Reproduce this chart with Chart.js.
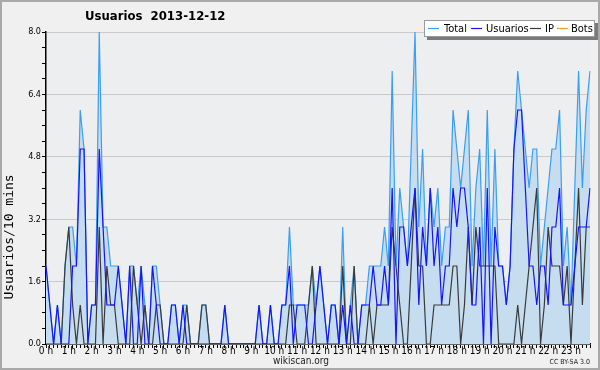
<!DOCTYPE html>
<html>
<head>
<meta charset="utf-8">
<script src="https://cdn.jsdelivr.net/npm/chart.js@4.4.1/dist/chart.umd.min.js"></script>
<style>
  html, body { margin: 0; padding: 0; background: #f0f0f0; }
  #wrap { width: 600px; height: 370px; }
</style>
</head>
<body>
<div id="wrap"><canvas id="chart" width="600" height="370"></canvas></div>
<script>
const hourLabels = ["0 h", "1 h", "2 h", "3 h", "4 h", "5 h", "6 h", "7 h", "8 h", "9 h", "10 h", "11 h",
  "12 h", "13 h", "14 h", "15 h", "16 h", "17 h", "18 h", "19 h", "20 h", "21 h", "22 h", "23 h"];
const yTicks = [0, 1.6, 3.2, 4.8, 6.4, 8.0];

// one value per 10 minutes, 144 per day
const totalData = [
  2, 1, 0, 1, 0, 2, 3, 3, 2, 6, 5, 0, 1, 1, 8, 3, 3, 2, 2, 2, 1, 0, 2, 2,
  1, 2, 1, 0, 2, 2, 1, 0, 0, 1, 1, 0, 1, 1, 0, 0, 0, 1, 1, 0, 0, 0, 0, 1,
  0, 0, 0, 0, 0, 0, 0, 0, 1, 0, 0, 1, 0, 0, 1, 1, 3, 1, 1, 1, 1, 1, 2, 1,
  2, 1, 0, 1, 1, 0, 3, 0, 1, 2, 0, 1, 1, 2, 2, 2, 2, 3, 2, 7, 2, 4, 3, 2,
  5, 8, 3, 5, 2, 4, 3, 4, 2, 3, 3, 6, 5, 4, 5, 6, 2, 4, 5, 2, 6, 2, 5, 2,
  2, 1, 2, 5, 7, 6, 5, 4, 5, 5, 2, 3, 4, 5, 5, 6, 2, 3, 1, 4, 7, 4, 6, 7,
];
const usuariosData = [
  2, 1, 0, 1, 0, 0, 0, 2, 2, 5, 5, 0, 1, 1, 5, 3, 1, 1, 1, 2, 1, 0, 2, 0,
  0, 2, 0, 0, 2, 1, 0, 0, 0, 1, 1, 0, 1, 0, 0, 0, 0, 0, 0, 0, 0, 0, 0, 1,
  0, 0, 0, 0, 0, 0, 0, 0, 1, 0, 0, 1, 0, 0, 1, 1, 2, 0, 1, 1, 1, 0, 0, 1,
  2, 1, 0, 1, 1, 0, 1, 0, 1, 0, 0, 1, 1, 1, 2, 1, 1, 2, 1, 4, 0, 3, 3, 2,
  3, 4, 1, 3, 2, 4, 2, 3, 1, 2, 2, 4, 3, 4, 4, 3, 1, 1, 3, 0, 4, 0, 3, 2,
  2, 1, 2, 5, 6, 6, 4, 2, 2, 1, 2, 2, 1, 3, 3, 4, 1, 1, 1, 2, 3, 3, 3, 4,
];
const ipData = [
  0, 0, 0, 0, 0, 2, 3, 1, 0, 1, 0, 0, 0, 0, 3, 0, 2, 1, 1, 0, 0, 0, 0, 2,
  1, 0, 1, 0, 0, 1, 1, 0, 0, 0, 0, 0, 0, 1, 0, 0, 0, 1, 1, 0, 0, 0, 0, 0,
  0, 0, 0, 0, 0, 0, 0, 0, 0, 0, 0, 0, 0, 0, 0, 0, 1, 1, 0, 0, 0, 1, 2, 0,
  0, 0, 0, 0, 0, 0, 2, 0, 0, 2, 0, 0, 0, 1, 0, 1, 1, 1, 1, 3, 2, 1, 0, 0,
  2, 4, 2, 2, 0, 0, 1, 1, 1, 1, 1, 2, 2, 0, 1, 3, 1, 3, 2, 2, 2, 2, 2, 0,
  0, 0, 0, 0, 1, 0, 1, 2, 3, 4, 0, 1, 3, 2, 2, 2, 1, 2, 0, 2, 4, 1, 3, 3,
];
const botsData = [
  0, 0, 0, 0, 0, 0, 0, 0, 0, 0, 0, 0, 0, 0, 0, 0, 0, 0, 0, 0, 0, 0, 0, 0,
  0, 0, 0, 0, 0, 0, 0, 0, 0, 0, 0, 0, 0, 0, 0, 0, 0, 0, 0, 0, 0, 0, 0, 0,
  0, 0, 0, 0, 0, 0, 0, 0, 0, 0, 0, 0, 0, 0, 0, 0, 0, 0, 0, 0, 0, 0, 0, 0,
  0, 0, 0, 0, 0, 0, 0, 0, 0, 0, 0, 0, 0, 0, 0, 0, 0, 0, 0, 0, 0, 0, 0, 0,
  0, 0, 0, 0, 0, 0, 0, 0, 0, 0, 0, 0, 0, 0, 0, 0, 0, 0, 0, 0, 0, 0, 0, 0,
  0, 0, 0, 0, 0, 0, 0, 0, 0, 0, 0, 0, 0, 0, 0, 0, 0, 0, 0, 0, 0, 0, 0, 0,
];

const slotLabels = [];
hourLabels.forEach((h) => {
  for (let m = 0; m < 60; m += 10) slotLabels.push(h + " " + m);
});

const COLORS = {
  total: "#3a9ef2",
  totalFill: "#c6dcef",
  usuarios: "#1414ff",
  ip: "#3a3a3a",
  bots: "#ffa020",
};
const FONT = "'DejaVu Sans Condensed', 'DejaVu Sans', sans-serif";

const decor = {
  id: "decor",
  beforeDraw(chart) {
    const { ctx, chartArea: a } = chart;
    ctx.save();
    ctx.fillStyle = "#f0f0f0";
    ctx.fillRect(0, 0, chart.width, chart.height);
    ctx.fillStyle = "#eceef0";
    ctx.fillRect(a.left, a.top, a.right - a.left, a.bottom - a.top);
    ctx.restore();
  },
  afterDraw(chart) {
    const ctx = chart.ctx;
    ctx.save();

    // frame
    ctx.strokeStyle = "#a9a9a9";
    ctx.lineWidth = 2;
    ctx.strokeRect(1, 1, chart.width - 2, chart.height - 2);

    // title
    ctx.fillStyle = "#000";
    ctx.font = "bold 13px " + FONT;
    ctx.textBaseline = "middle";
    ctx.textAlign = "left";
    ctx.fillText("Usuarios  2013-12-12", 85, 17);

    // y title
    ctx.save();
    ctx.translate(10, 237);
    ctx.rotate(-Math.PI / 2);
    ctx.textAlign = "center";
    ctx.font = "13px 'DejaVu Sans Mono', monospace";
    ctx.fillText("Usuarios/10 mins", 0, 0);
    ctx.restore();

    // legend box with shadow
    ctx.fillStyle = "#7a7a7a";
    ctx.fillRect(427, 23, 171, 17);
    ctx.fillStyle = "#ffffff";
    ctx.fillRect(424, 20, 171, 17);
    ctx.strokeStyle = "#9a9a9a";
    ctx.lineWidth = 1;
    ctx.strokeRect(424.5, 20.5, 170, 16);

    const items = [
      ["Total", COLORS.total, 428, 444],
      ["Usuarios", COLORS.usuarios, 471, 486],
      ["IP", COLORS.ip, 530, 545],
      ["Bots", COLORS.bots, 557, 571],
    ];
    ctx.font = "11px " + FONT;
    ctx.textAlign = "left";
    items.forEach(([txt, col, lx, tx]) => {
      ctx.strokeStyle = col;
      ctx.lineWidth = 1.2;
      ctx.beginPath();
      ctx.moveTo(lx, 28.5);
      ctx.lineTo(lx + 11, 28.5);
      ctx.stroke();
      ctx.fillStyle = "#000";
      ctx.fillText(txt, tx, 29);
    });

    // footer
    ctx.fillStyle = "#222";
    ctx.textAlign = "center";
    ctx.font = "10px " + FONT;
    ctx.fillText("wikiscan.org", 301, 361);
    ctx.textAlign = "right";
    ctx.font = "7px " + FONT;
    ctx.fillText("CC BY-SA 3.0", 590, 362);

    ctx.restore();
  },
};

function isMajor(v) {
  return yTicks.some((t) => Math.abs(t - v) < 1e-6);
}

const ctx = document.getElementById("chart").getContext("2d");
new Chart(ctx, {
  type: "line",
  data: {
    labels: slotLabels,
    datasets: [
      {
        label: "Usuarios",
        data: usuariosData,
        borderColor: COLORS.usuarios,
        borderWidth: 1.2,
        pointRadius: 0,
        fill: false,
      },
      {
        label: "IP",
        data: ipData,
        borderColor: COLORS.ip,
        borderWidth: 1.2,
        pointRadius: 0,
        fill: false,
      },
      {
        label: "Total",
        data: totalData,
        borderColor: COLORS.total,
        backgroundColor: COLORS.totalFill,
        borderWidth: 1.2,
        pointRadius: 0,
        fill: "origin",
      },
      {
        label: "Bots",
        data: botsData,
        borderColor: COLORS.bots,
        borderWidth: 1.2,
        pointRadius: 0,
        fill: false,
      },
    ],
  },
  options: {
    responsive: false,
    animation: false,
    devicePixelRatio: 1,
    layout: { padding: { top: 32, right: 10, left: 0, bottom: 0 } },
    plugins: {
      legend: { display: false },
      tooltip: { enabled: false },
      title: { display: false },
    },
    elements: { line: { tension: 0 } },
    scales: {
      x: {
        type: "category",
        offset: false,
        z: 1,
        afterFit: (scale) => {
          scale.height = 26;
        },
        border: { display: true, color: "#000", width: 1.5 },
        grid: {
          drawOnChartArea: false,
          drawTicks: true,
          tickLength: 4,
          tickColor: "#000",
        },
        ticks: {
          autoSkip: false,
          maxRotation: 0,
          minRotation: 0,
          padding: -3,
          color: "#000",
          font: { family: FONT, size: 10 },
          callback: (val, idx) => (idx % 6 === 0 ? hourLabels[idx / 6] : ""),
        },
      },
      y: {
        min: 0,
        max: 8,
        afterFit: (scale) => {
          scale.width = 46;
        },
        border: { display: true, color: "#000", width: 1.5 },
        grid: {
          color: (c) => (isMajor(c.tick.value) ? "#c9c9c9" : "rgba(0,0,0,0)"),
          tickColor: "#000",
          tickLength: 4,
          lineWidth: 1,
        },
        ticks: {
          stepSize: 0.4,
          autoSkip: false,
          padding: 1,
          color: "#000",
          font: { family: FONT, size: 9 },
          callback: (v) => (isMajor(v) ? Number(v).toFixed(1) : ""),
        },
      },
    },
  },
  plugins: [decor],
});
</script>
</body>
</html>
